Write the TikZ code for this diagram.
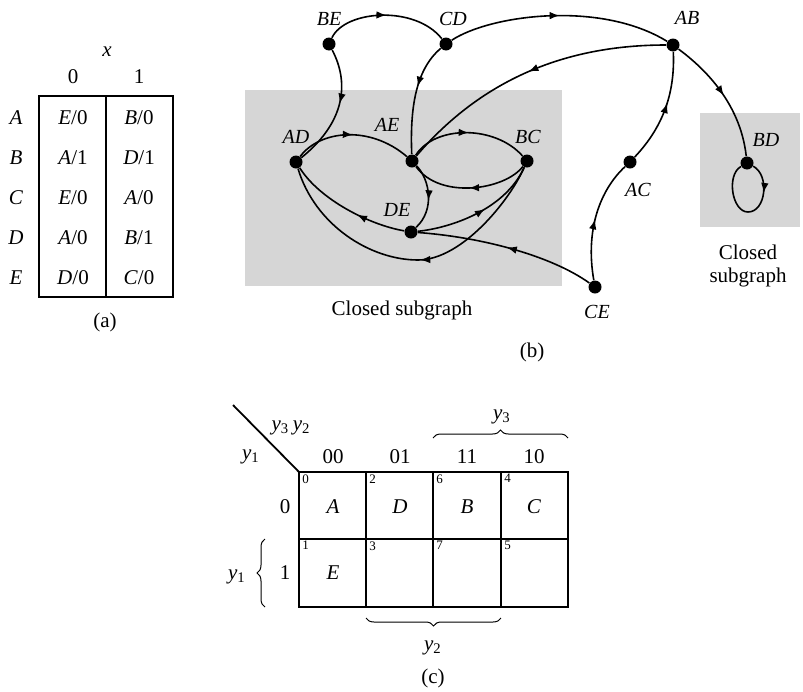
\documentclass[tikz,border=0pt]{standalone}
\usepackage{fontspec}
\setmainfont{Liberation Serif}
\usetikzlibrary{arrows.meta,decorations.markings,decorations.pathreplacing}
\definecolor{graybox}{RGB}{214,214,214}
\tikzset{
  dot/.style={circle,fill=black,inner sep=0pt,minimum size=6.5pt},
  lbl/.style={font=\fontsize{10}{12}\selectfont\itshape,inner sep=0pt},
  txt/.style={font=\fontsize{10.5}{12.6}\selectfont,inner sep=0pt},
  conn/.style={line width=0.8pt},
  midarrow/.style={postaction={decorate},decoration={markings,mark=at position #1 with {\arrow{Latex[length=5pt,width=3.8pt]}}}},
  midarrow/.default=0.5,
  tbl/.style={line width=0.9pt},
  brc/.style={decorate,decoration={brace,amplitude=4pt},line width=0.5pt},
  cellnum/.style={font=\fontsize{6.5}{7}\selectfont,inner sep=0pt,anchor=north west},
}
\begin{document}
\begin{tikzpicture}[x=0.5pt,y=-0.5pt]
\useasboundingbox (0,0) rectangle (803,691);
% ---------------- (a) table
\draw[tbl] (39,96) rectangle (173,297);
\draw[tbl] (106,96) -- (106,297);
\node[txt,font=\fontsize{10.5}{12.6}\selectfont\itshape] (tx) at (107,52) {x};
\node[txt] (t0) at (73,77) {0};
\node[txt] (t1) at (139,77) {1};
\foreach \r/\yy/\a/\b/\c/\d in {A/118/E/0/B/0, B/158/A/1/D/1, C/198/E/0/A/0, D/238/A/0/B/1, E/278/D/0/C/0}{
  \node[txt] (row\r) at (16,\yy) {\textit{\r}};
  \node[txt] (c0\r) at (73,\yy) {\textit{\a}/\b};
  \node[txt] (c1\r) at (139,\yy) {\textit{\c}/\d};
}
\node[txt] (capa) at (105,322) {(a)};
% ---------------- (b) graph
\fill[graybox] (245,90) rectangle (562,286);
\fill[graybox] (700,113) rectangle (800,227);
\node[dot] (BE) at (329,44) {};
\node[dot] (CD) at (446,44) {};
\node[dot] (AB) at (673,45) {};
\node[dot] (AD) at (296,162) {};
\node[dot] (AE) at (412,161) {};
\node[dot] (BC) at (527,161) {};
\node[dot] (DE) at (411,232) {};
\node[dot] (AC) at (630,162) {};
\node[dot] (BD) at (747,163) {};
\node[dot] (CE) at (595,287) {};
\node[lbl] (lBE) at (329,19) {BE};
\node[lbl] (lCD) at (453,19) {CD};
\node[lbl] (lAB) at (687,18) {AB};
\node[lbl] (lAD) at (296,137) {AD};
\node[lbl] (lAE) at (387,125) {AE};
\node[lbl] (lBC) at (528,137) {BC};
\node[lbl] (lDE) at (397,210) {DE};
\node[lbl] (lAC) at (638,190) {AC};
\node[lbl] (lBD) at (766,140) {BD};
\node[lbl] (lCE) at (597,312) {CE};
% edges
\draw[conn,midarrow] (BE) .. controls (345,10) and (415,5) .. (CD);
\draw[conn,midarrow] (CD) .. controls (490,15) and (600,0) .. (AB);
\draw[conn,midarrow=0.45] (BE) .. controls (348,80) and (348,120) .. (AD);
\draw[conn,midarrow=0.4] (CD) .. controls (415,70) and (410,110) .. (AE);
\draw[conn,midarrow] (AB) .. controls (580,45) and (490,70) .. (AE);
\draw[conn,midarrow] (AB) .. controls (700,65) and (740,100) .. (BD);
\draw[conn,midarrow=0.55] (AC) .. controls (665,125) and (675,90) .. (AB);
\draw[conn,midarrow] (CE) .. controls (585,230) and (600,190) .. (AC);
\draw[conn,midarrow] (CE) .. controls (550,255) and (480,237) .. (DE);
\draw[conn,midarrow] (AD) .. controls (320,130) and (370,125) .. (AE);
\draw[conn,midarrow] (AE) .. controls (435,125) and (495,125) .. (BC);
\draw[conn,midarrow] (BC) .. controls (505,190) and (440,200) .. (AE);
\draw[conn,midarrow=0.55] (AE) .. controls (430,180) and (435,210) .. (DE);
\draw[conn,midarrow=0.55] (DE) .. controls (450,228) and (505,210) .. (BC);
\draw[conn,midarrow=0.4] (DE) .. controls (370,225) and (320,200) .. (AD);
\draw[conn,midarrow=0.47] (BC) .. controls (510,200) and (462,260) .. (418,260) .. controls (370,260) and (315,225) .. (AD);
\draw[conn,midarrow=0.27] (BD) .. controls (770,175) and (766,212) .. (748,212) .. controls (732,212) and (726,175) .. (BD);
\node[txt] (cs1) at (402,310) {Closed subgraph};
\node[txt] (cs2) at (748,252) {Closed};
\node[txt] (cs3) at (748,277) {subgraph};
\node[txt] (capb) at (532,352) {(b)};
% ---------------- (c) K-map
\draw[tbl] (299,472) rectangle (568,607);
\draw[tbl] (299,539) -- (568,539);
\foreach \xx in {366,433,501}{ \draw[tbl] (\xx,472) -- (\xx,607); }
\draw[tbl] (233,405) -- (299,472);
\node[txt] (ky32) at (291,428) {\textit{y}\textsubscript{3}\,\textit{y}\textsubscript{2}};
\node[txt] (ky1a) at (251,457) {\textit{y}\textsubscript{1}};
\node[txt] (h00) at (333,457) {00};
\node[txt] (h01) at (400,457) {01};
\node[txt] (h11) at (467,457) {11};
\node[txt] (h10) at (534,457) {10};
\node[txt] (r0) at (285,507) {0};
\node[txt] (r1) at (285,573) {1};
\node[txt] (mA) at (333,507) {\textit{A}};
\node[txt] (mD) at (400,507) {\textit{D}};
\node[txt] (mB) at (467,507) {\textit{B}};
\node[txt] (mC) at (534,507) {\textit{C}};
\node[txt] (mE) at (333,573) {\textit{E}};
\node[cellnum] (n0) at (302,474) {0};
\node[cellnum] (n2) at (369,474) {2};
\node[cellnum] (n6) at (436,474) {6};
\node[cellnum] (n4) at (504,474) {4};
\node[cellnum] (n1) at (302,541) {1};
\node[cellnum] (n3) at (369,541) {3};
\node[cellnum] (n7) at (436,541) {7};
\node[cellnum] (n5) at (504,541) {5};
\draw[brc] (433,438) -- (568,438);
\node[txt] (ky3) at (502,417) {\textit{y}\textsubscript{3}};
\draw[brc] (265,607) -- (265,539);
\node[txt] (ky1b) at (237,577) {\textit{y}\textsubscript{1}};
\draw[brc] (501,618) -- (366,618);
\node[txt] (ky2) at (433,648) {\textit{y}\textsubscript{2}};
\node[txt] (capc) at (433,678) {(c)};
\end{tikzpicture}
\end{document}
